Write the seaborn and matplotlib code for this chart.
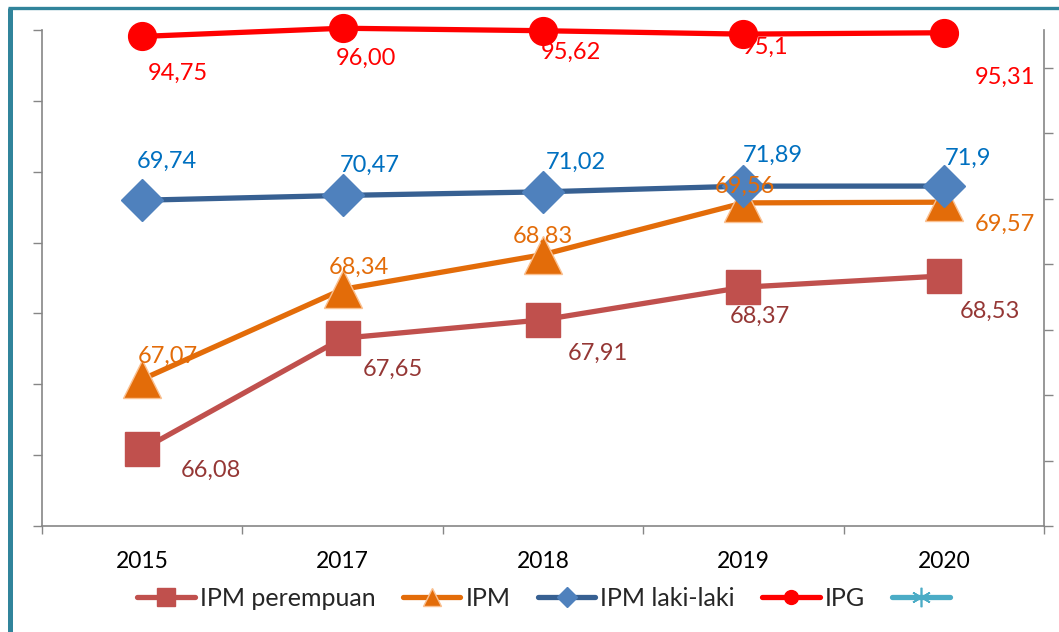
import numpy as np
import matplotlib.pyplot as plt
import seaborn as sns
from matplotlib.lines import Line2D

# Data
years = ["2015", "2017", "2018", "2019", "2020"]
ipm_perempuan = [66.08, 67.65, 67.91, 68.37, 68.53]
ipm = [67.07, 68.34, 68.83, 69.56, 69.57]
ipm_laki = [69.74, 70.47, 71.02, 71.89, 71.90]
ipg = [94.75, 96.00, 95.62, 95.10, 95.31]

lbl_perempuan = ["66,08", "67,65", "67,91", "68,37", "68,53"]
lbl_ipm = ["67,07", "68,34", "68,83", "69,56", "69,57"]
lbl_laki = ["69,74", "70,47", "71,02", "71,89", "71,9"]
lbl_ipg = ["94,75", "96,00", "95,62", "95,1", "95,31"]

# label offsets in pixels (dx right, dy down) as placed in the source chart
off_perempuan = [(69, 21), (50, 31), (55, 34), (16, 29), (46, 35)]
off_ipm = [(26, -23), (16, -22), (0, -18), (2, -17), (61, 22)]
off_laki = [(25, -39), (27, -30), (33, -29), (29, -31), (24, -28)]
off_ipg = [(36, 37), (23, 30), (28, 22), (22, 13), (61, 45)]

sns.set_theme(style="white")
plt.rcParams["font.family"] = ["Lato", "DejaVu Sans"]

DPI = 100
W, H = 1059, 632
fig = plt.figure(figsize=(W / DPI, H / DPI), dpi=DPI)
ax = fig.add_axes([42 / W, 1 - 526 / H, (1044 - 42) / W, (526 - 30) / H])
ax2 = ax.twinx()

x = np.arange(len(years))
px = 72 / DPI  # pixels -> points

sns.lineplot(x=x, y=ipm_perempuan, ax=ax, color="#C0504D", lw=3.8, marker="s",
             markersize=25, markeredgecolor="#C0504D", markeredgewidth=1,
             label="IPM perempuan", legend=False, clip_on=False)
sns.lineplot(x=x, y=ipm, ax=ax, color="#E36C09", lw=3.8, marker="^",
             markersize=27, markeredgecolor="#FAC090", markeredgewidth=1,
             label="IPM", legend=False, clip_on=False)
sns.lineplot(x=x, y=ipm_laki, ax=ax2, color="#376092", lw=3.8, marker="D",
             markersize=21, markerfacecolor="#4F81BD", markeredgecolor="#4F81BD",
             markeredgewidth=1, label="IPM laki-laki", legend=False, clip_on=False)
sns.lineplot(x=x, y=ipg, ax=ax2, color="#FF0000", lw=3.8, marker="o",
             markersize=20, markeredgecolor="#FF0000", markeredgewidth=1,
             label="IPG", legend=False, clip_on=False)


def put_labels(axis, vals, labels, offs, color):
    # all labels live on the top (twin) axes so they are drawn above every marker
    for i, (v, t, (dx, dy)) in enumerate(zip(vals, labels, offs)):
        ax2.annotate(t, xy=(x[i], v), xycoords=axis.transData,
                     xytext=(dx * px, -dy * px), textcoords="offset points",
                     ha="center", va="center", fontsize=17, color=color,
                     annotation_clip=False, zorder=10)


put_labels(ax, ipm_perempuan, lbl_perempuan, off_perempuan, "#953735")
put_labels(ax, ipm, lbl_ipm, off_ipm, "#E36C09")
put_labels(ax2, ipm_laki, lbl_laki, off_laki, "#0070C0")
put_labels(ax2, ipg, lbl_ipg, off_ipg, "#FF0000")

# Axes
ax.set_xlim(-0.5, len(years) - 0.5)
ax.set_ylim(65, 72)
ax2.set_ylim(20, 95.73)
ax.set_yticks(np.arange(65, 73, 1))
ax2.set_yticks(np.arange(20, 91, 10))
ax.set_yticklabels([])
ax2.set_yticklabels([])
ax.set_xticks(x)
ax.set_xticklabels(years, fontsize=16.5, color="black")
ax.set_xticks(np.arange(-0.5, len(years), 1), minor=True)
ax.tick_params(axis="x", which="major", length=0, pad=18)
ax.tick_params(axis="x", which="minor", length=5.5, width=1, color="#868686",
               direction="out", bottom=True)
ax.tick_params(axis="y", length=6.5, width=1, color="#868686", direction="out", left=True)
ax2.tick_params(axis="y", length=6.5, width=1, color="#868686", direction="out", right=True)
ax.set_xlabel("")
ax.set_ylabel("")
ax2.set_ylabel("")
for a in (ax, ax2):
    a.spines["top"].set_visible(False)
    for s in ["left", "right", "bottom"]:
        a.spines[s].set_color("#868686")
        a.spines[s].set_linewidth(1.2)
ax.spines["right"].set_visible(False)
ax2.spines["left"].set_visible(False)
ax2.spines["bottom"].set_visible(False)

# Legend
handles = [h for h in ax.get_lines() + ax2.get_lines()
           if h.get_label() in ("IPM perempuan", "IPM", "IPM laki-laki", "IPG")]
blank = Line2D([], [], color="#4BACC6", lw=3.8, marker=(6, 2, 0), markersize=28,
               markeredgecolor="#4BACC6", markeredgewidth=1.2)
handles = handles + [blank]
labels = ["IPM perempuan", "IPM", "IPM laki-laki", "IPG", ""]
fig.legend(handles, labels, loc="center", bbox_to_anchor=(546 / W, 1 - 598 / H),
           ncol=5, frameon=False, fontsize=18, handlelength=2.3, handletextpad=0.2,
           columnspacing=1.1, markerscale=0.5)

# Chart frame border
fig.add_artist(Line2D([10 / W, 10 / W], [0, 1 - 8 / H], color="#31849B", lw=3.6,
                      transform=fig.transFigure, solid_capstyle="butt"))
fig.add_artist(Line2D([8 / W, 1], [1 - 8 / H, 1 - 8 / H], color="#31849B", lw=2.4,
                      transform=fig.transFigure, solid_capstyle="butt"))

fig.savefig("out.png", dpi=DPI)
plt.close(fig)
